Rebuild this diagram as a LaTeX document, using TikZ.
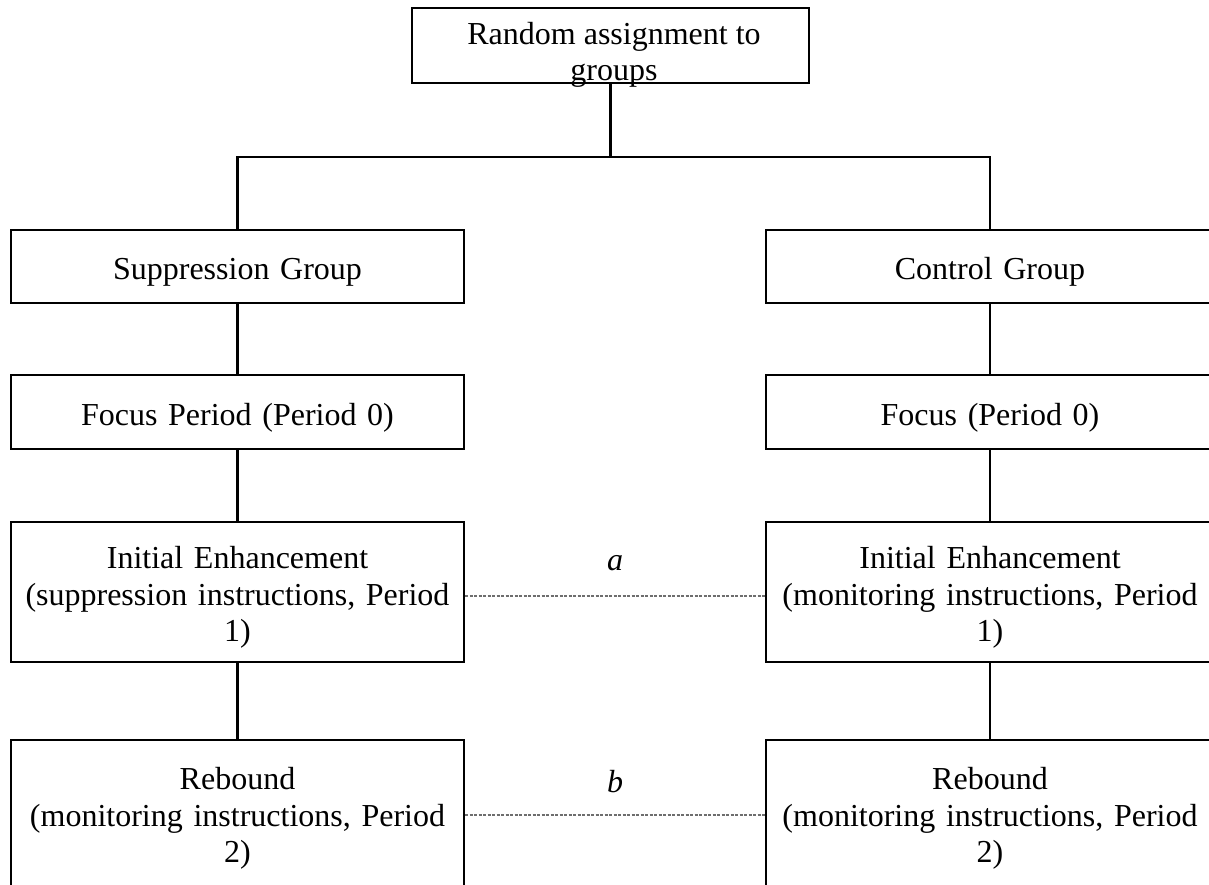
\documentclass[tikz,border=0pt]{standalone}
\usepackage{fontspec}
\setmainfont{Liberation Serif}
\usetikzlibrary{calc}
\definecolor{linkgray}{RGB}{110,110,110}
\begin{document}
\begin{tikzpicture}[x=1pt,y=-1pt,
  txt/.style={font=\fontsize{32}{36.5}\selectfont, align=center, inner sep=0pt},
  % the strut on the first line sets the text a little below the box centre
  box/.style={txt, draw, line width=2.2pt, rectangle, text width=440pt, minimum width=453pt,
    execute at begin node={\rule{0pt}{33pt}}},
  boxR/.style={box, minimum width=448pt},
  conn/.style={line width=2.2pt},
  link/.style={draw=linkgray, line width=1.6pt, dash pattern=on 3pt off 1.5pt},
  lab/.style={txt, font=\fontsize{32}{36.5}\selectfont\itshape}]
\useasboundingbox (0,0) rectangle (1209,885);
\fill[white] (0,0) rectangle (1209,885);
\clip (0,0) rectangle (1209,885);

% top box
\node[draw, line width=2.2pt, rectangle, minimum width=397pt, minimum height=75pt] (root) at (610.5,45.5) {};
\node[txt] (roottext) at (614,55) {Random assignment to\\groups};

% left column
\node[box, minimum height=73pt]  (sup)  at (237.5,266.5) {Suppression Group};
\node[box, minimum height=74pt]  (focL) at (237.5,412)   {Focus Period (Period 0)};
\node[box, minimum height=140pt] (iniL) at (237.5,592)   {Initial Enhancement\\(suppression instructions, Period\\1)};
\node[box, minimum height=146pt] (rebL) at (237.5,813)   {Rebound\\(monitoring instructions, Period\\2)};

% right column
\node[boxR, minimum height=73pt]  (ctl)  at (990,266.5) {Control Group};
\node[boxR, minimum height=74pt]  (focR) at (990,412)   {Focus (Period 0)};
\node[boxR, minimum height=140pt] (iniR) at (990,592)   {Initial Enhancement\\(monitoring instructions, Period\\1)};
\node[boxR, minimum height=146pt] (rebR) at (990,813)   {Rebound\\(monitoring instructions, Period\\2)};

% branching from the assignment box
\coordinate (fork) at (root.south |- 0,157);
\draw[conn] (root.south) -- (fork);
\draw[conn] (sup.north) |- (fork) -| (ctl.north);

% vertical stems
\draw[conn] (sup) -- (focL);
\draw[conn] (focL) -- (iniL);
\draw[conn] (iniL) -- (rebL);
\draw[conn] (ctl) -- (focR);
\draw[conn] (focR) -- (iniR);
\draw[conn] (iniR) -- (rebR);

% comparisons between groups
\draw[link] ([yshift=-4pt]iniL.east) -- ([yshift=-4pt]iniR.west);
\draw[link] ([yshift=-2pt]rebL.east) -- ([yshift=-2pt]rebR.west);
\node[lab] (la) at (615,563) {a};
\node[lab] (lb) at (615,782) {b};
\end{tikzpicture}
\end{document}
